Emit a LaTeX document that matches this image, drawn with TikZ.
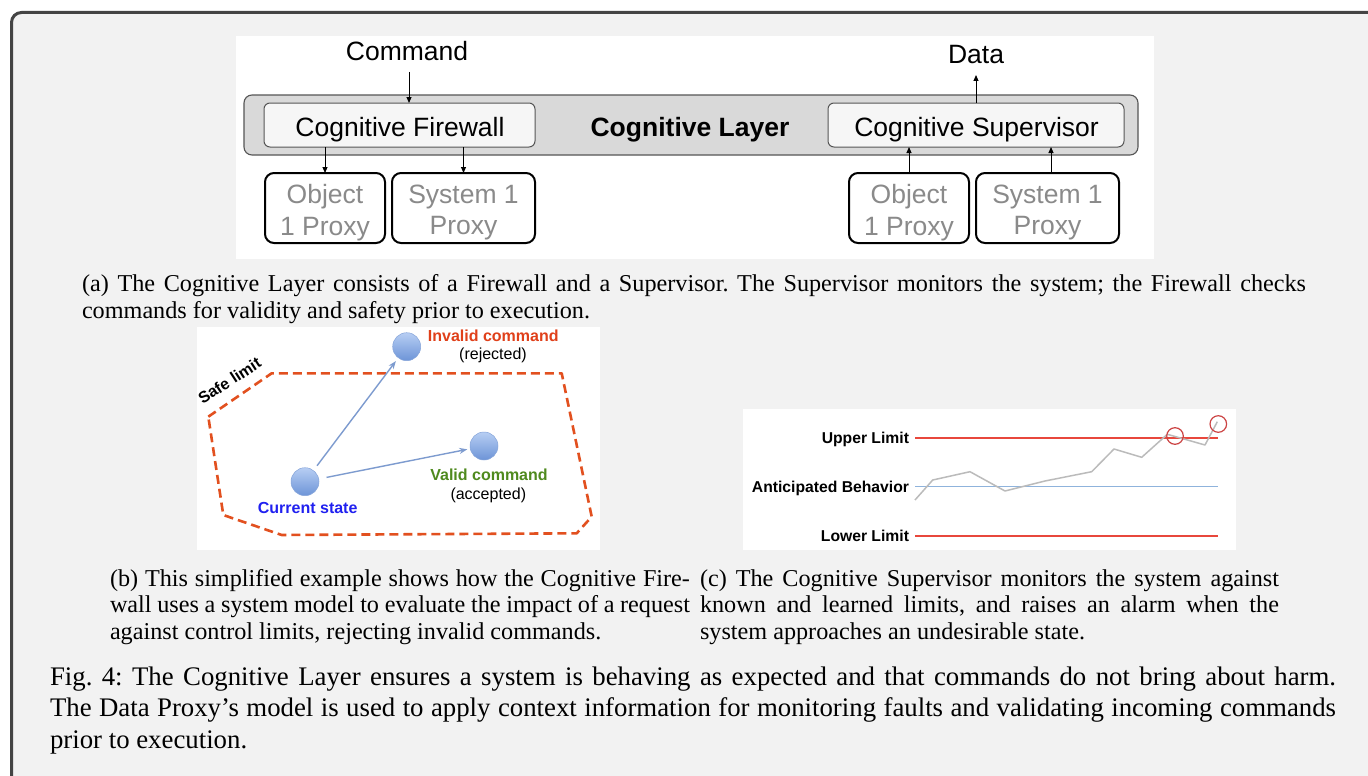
\documentclass[tikz,border=0pt]{standalone}
\usepackage{fontspec}
\setmainfont{Liberation Serif}
\newfontfamily\hel{Liberation Sans}
\usetikzlibrary{arrows.meta,shapes.geometric}
\definecolor{bgc}{HTML}{F2F2F2}
\definecolor{framec}{HTML}{444444}
\definecolor{bandc}{HTML}{D9D9D9}
\definecolor{bandline}{HTML}{555555}
\definecolor{fwfill}{HTML}{F6F6F6}
\definecolor{proxytext}{HTML}{8A8A8A}
\definecolor{safec}{HTML}{E2501F}
\definecolor{invalidc}{HTML}{E0401A}
\definecolor{validc}{HTML}{4F8A1E}
\definecolor{currentc}{HTML}{2020F0}
\definecolor{balltop}{HTML}{B7CEF3}
\definecolor{ballbot}{HTML}{6D94D7}
\definecolor{ballline}{HTML}{86A5DA}
\definecolor{movec}{HTML}{7D9BCF}
\definecolor{limitc}{HTML}{E8473C}
\definecolor{antic}{HTML}{8FB3DC}
\definecolor{tracec}{HTML}{BBBBBB}
\definecolor{alarmc}{HTML}{CC4444}
\frenchspacing
\begin{document}
\begin{tikzpicture}[x=1pt,y=-1pt,
  every node/.style={inner sep=0pt, outer sep=0pt},
  big/.style={font=\hel\fontsize{26.5}{31.5}\selectfont},
  bandbox/.style={draw=bandline, fill=bandc, line width=1.1pt, rounded corners=8pt},
  unitbox/.style={draw=bandline, fill=fwfill, line width=1pt, rounded corners=6pt},
  proxybox/.style={draw=black, fill=white, line width=2pt, rounded corners=9pt, minimum height=70pt},
  proxytxt/.style={big, text=proxytext, align=center},
  arr/.style={-{Triangle[length=6pt,width=5pt]}, line width=1pt, black},
  ball/.style={circle, minimum size=28pt, top color=balltop, bottom color=ballbot, draw=ballline, line width=0.5pt},
  move/.style={-{Stealth[length=8pt,width=6pt]}, line width=1.4pt, movec},
  lab/.style={font=\hel\bfseries\fontsize{16}{19}\selectfont},
  labn/.style={font=\hel\fontsize{16}{19}\selectfont},
  clab/.style={font=\hel\bfseries\fontsize{15.7}{19}\selectfont, anchor=base east},
  subcap/.style={anchor=base west, font=\fontsize{24.2}{26.7}\selectfont},
]
\useasboundingbox (0,0) rectangle (1368,776);
% outer frame
\begin{scope}
\clip (0,0) rectangle (1368,776);
\draw[line width=3pt, draw=framec, fill=bgc, rounded corners=10pt] (11.5,12.5) rectangle (1430,840);
\end{scope}
% white panels
\fill[white] (236,36) rectangle (1154,259);
\fill[white] (197,327) rectangle (600,550);
\fill[white] (743,409) rectangle (1236,550);

% ---------- panel (a) ----------
\node[bandbox, minimum width=894pt, minimum height=60pt] (layer) at (691,125) {};
\node[unitbox, minimum width=271pt, minimum height=44pt] (fw) at (399.5,125) {};
\node[unitbox, minimum width=296pt, minimum height=44pt] (sup) at (976,125) {};
\node[big, anchor=base] (fwt) at (400,136) {Cognitive Firewall};
\node[big, anchor=base] (supt) at (976.5,136) {Cognitive Supervisor};
\node[big, anchor=base, font=\hel\bfseries\fontsize{26.5}{30.5}\selectfont] (clt) at (690,136) {Cognitive Layer};
\node[big, anchor=base] (cmd) at (407,60.5) {Command};
\node[big, anchor=base] (data) at (976,63.3) {Data};

\node[proxybox, minimum width=120pt] (op1) at (325,208) {};
\node[proxybox, minimum width=143pt] (sp1) at (463.5,208) {};
\node[proxybox, minimum width=120pt] (op2) at (909,208) {};
\node[proxybox, minimum width=143pt] (sp2) at (1047.5,208) {};
\node[proxytxt] (op1t) at (325,212.4) {Object\\1 Proxy};
\node[proxytxt] (sp1t) at (463.5,212.4) {System 1\\Proxy};
\node[proxytxt] (op2t) at (909,212.4) {Object\\1 Proxy};
\node[proxytxt] (sp2t) at (1047.5,212.4) {System 1\\Proxy};

\coordinate (cmdend) at (409,72);
\draw[arr] (cmdend) -- (cmdend |- fw.north);
\coordinate (dataend) at (976,75);
\draw[arr] (sup.north) -- (dataend);
\draw[arr] (op1.north |- fw.south) -- (op1.north);
\draw[arr] (sp1.north |- fw.south) -- (sp1.north);
\draw[arr] (op2.north) -- (op2.north |- sup.south);
\draw[arr] ([xshift=3.5pt]sp2.north) -- ([xshift=3.5pt]sp2.north |- sup.south);

% ---------- panel (b) ----------
\draw[safec, line width=2.6pt, dash pattern=on 9pt off 5pt, line join=round]
  (208.3,416.7) -- (271.7,373.3) -- (561.7,373.3) -- (591.7,516.7) -- (576.7,533.3)
  -- (281.7,535) -- (223.3,515) -- cycle;
\node[lab, rotate=33] (safe) at (229.5,380.5) {Safe limit};
\node[ball] (inv) at (406.7,346.7) {};
\node[ball] (val) at (484,446) {};
\node[ball] (cur) at (305,481.7) {};
\draw[move, shorten <=6pt, shorten >=4pt] (cur) -- (inv);
\draw[move, shorten <=8pt, shorten >=3pt] (cur) -- (val);
\node[lab, text=invalidc, anchor=base] (invt) at (493.3,341.7) {Invalid command};
\node[labn, anchor=base] (invr) at (493,359.3) {(rejected)};
\node[lab, text=validc, anchor=base] (valt) at (489,480.7) {Valid command};
\node[labn, anchor=base] (vala) at (488.3,499.3) {(accepted)};
\node[lab, text=currentc, anchor=base] (curt) at (307.7,513.3) {Current state};

% ---------- panel (c) ----------
\coordinate (ul0) at (915,438.3);
\coordinate (ul1) at (1218,438.3);
\coordinate (ab0) at (915,486.7);
\coordinate (ab1) at (1218,486.7);
\coordinate (ll0) at (915,536);
\coordinate (ll1) at (1218,536);
\draw[antic, line width=1.3pt] (ab0) -- (ab1);
\draw[limitc, line width=2.2pt] (ul0) -- (ul1);
\draw[limitc, line width=2.2pt] (ll0) -- (ll1);
\draw[tracec, line width=1.5pt, line join=round]
  (915,500) -- (932.7,480) -- (970,471.7) -- (1005,491) -- (1045,481) -- (1091.7,471.7)
  -- (1114,449) -- (1141.7,457.3) -- (1167.3,434.3) -- (1205,445) -- (1217.3,421.7);
\node[circle, draw=alarmc, line width=1.2pt, minimum size=16.6pt] (al1) at (1175,436) {};
\node[circle, draw=alarmc, line width=1.2pt, minimum size=16.6pt] (al2) at (1218.3,424) {};
\node[clab] (ult) at (909,443.3) {Upper Limit};
\node[clab] (abt) at (909,492.3) {Anticipated Behavior};
\node[clab] (llt) at (909,541) {Lower Limit};

% ---------- captions ----------
\node[subcap] (capa) at (82,291.7) {\parbox[t]{1224pt}{\fontsize{24.2}{26.7}\selectfont
(a) The Cognitive Layer consists of a Firewall and a Supervisor. The Supervisor monitors the system; the Firewall checks\linebreak
commands for validity and safety prior to execution.}};
\node[subcap] (capb) at (110,586) {\parbox[t]{580pt}{\fontsize{24.2}{26.7}\selectfont
(b) This simplified example shows how the Cognitive Fire-\linebreak
wall uses a system model to evaluate the impact of a request\linebreak
against control limits, rejecting invalid commands.}};
\node[subcap] (capc) at (700,586) {\parbox[t]{579pt}{\fontsize{24.2}{26.7}\selectfont
(c) The Cognitive Supervisor monitors the system against\linebreak
known and learned limits, and raises an alarm when the\linebreak
system approaches an undesirable state.}};
\node[subcap] (capm) at (50,685) {\parbox[t]{1286pt}{\fontsize{26.8}{31.6}\selectfont
Fig. 4: The Cognitive Layer ensures a system is behaving as expected and that commands do not bring about harm.\linebreak
The Data Proxy's model is used to apply context information for monitoring faults and validating incoming commands\linebreak
prior to execution.}};
\end{tikzpicture}
\end{document}
